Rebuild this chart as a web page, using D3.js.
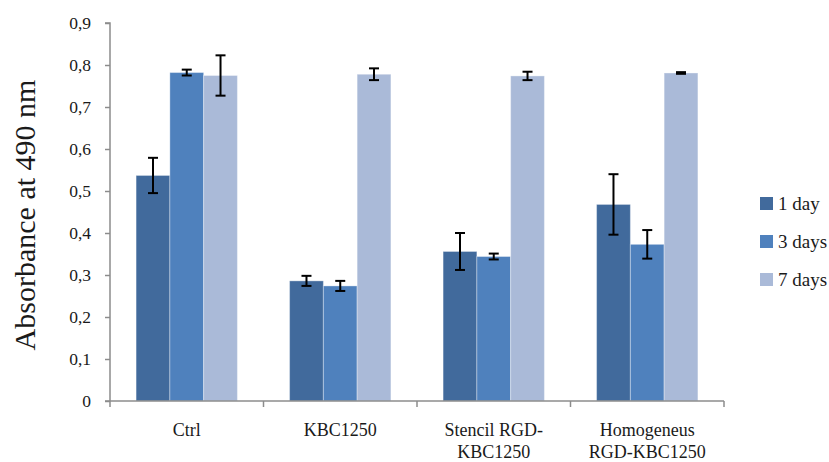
<!DOCTYPE html>
<html><head><meta charset="utf-8">
<script src="https://cdn.jsdelivr.net/npm/d3@7"></script>
<style>body{margin:0;background:#fff}svg{display:block}svg text{font-family:'Liberation Serif','DejaVu Serif',serif}</style>
</head><body>
<svg id="c" width="829" height="462"></svg>
<script>
const categories = [["Ctrl"], ["KBC1250"], ["Stencil RGD-", "KBC1250"], ["Homogeneus", "RGD-KBC1250"]];
const seriesNames = ["1 day", "3 days", "7 days"];
const seriesColors = ["#416A9C", "#4F81BD", "#AABAD8"];
const day1 = [0.537, 0.286, 0.356, 0.468];
const day3 = [0.782, 0.274, 0.344, 0.373];
const day7 = [0.775, 0.778, 0.774, 0.781];
const err1 = [0.042, 0.012, 0.044, 0.072];
const err3 = [0.007, 0.012, 0.007, 0.034];
const err7 = [0.048, 0.014, 0.010, 0.002];
const yTicks = [0, 0.1, 0.2, 0.3, 0.4, 0.5, 0.6, 0.7, 0.8, 0.9];
const yTickLabels = ["0", "0,1", "0,2", "0,3", "0,4", "0,5", "0,6", "0,7", "0,8", "0,9"];

(function () {
const values = [day1, day3, day7];
const errors = [err1, err3, err7];
const svg = d3.select("#c");
const font = "'Liberation Serif', 'DejaVu Serif', serif";
const pl = 110, pr = 724, pt = 23, pb = 401;

const x0 = d3.scaleBand().domain(d3.range(categories.length)).range([pl, pr]).paddingInner(0.34).paddingOuter(0.17);
const x1 = d3.scaleBand().domain(d3.range(seriesNames.length)).range([0, x0.bandwidth()]);
const y = d3.scaleLinear().domain([0, 0.9]).range([pb, pt]);

seriesNames.forEach((s, si) => {
  const g = svg.append("g");
  g.selectAll("rect").data(values[si]).join("rect")
    .attr("x", (d, i) => x0(i) + x1(si))
    .attr("y", d => y(d))
    .attr("width", x1.bandwidth())
    .attr("height", d => y(0) - y(d))
    .attr("fill", seriesColors[si])
    .attr("stroke", "#ffffff").attr("stroke-opacity", 0.35).attr("stroke-width", 1);
});

seriesNames.forEach((s, si) => {
  const g = svg.append("g").attr("stroke", "#000").attr("stroke-width", 2);
  values[si].forEach((v, i) => {
    const cx = x0(i) + x1(si) + x1.bandwidth() / 2;
    const e = errors[si][i];
    g.append("line").attr("x1", cx).attr("x2", cx).attr("y1", y(v + e)).attr("y2", y(v - e));
    g.append("line").attr("x1", cx - 5).attr("x2", cx + 5).attr("y1", y(v + e)).attr("y2", y(v + e));
    g.append("line").attr("x1", cx - 5).attr("x2", cx + 5).attr("y1", y(v - e)).attr("y2", y(v - e));
  });
});

const yAxis = d3.axisLeft(y).tickValues(yTicks).tickFormat((d, i) => yTickLabels[i]).tickSize(5).tickPadding(14);
const ya = svg.append("g").attr("transform", `translate(${pl},0)`).call(yAxis);
ya.attr("font-family", null).attr("font-size", null);
ya.select(".domain").attr("stroke", "#8c8c8c").attr("stroke-width", 1.5).attr("d", `M-5,${pt}H0V${pb}`);
ya.selectAll(".tick line").attr("stroke", "#8c8c8c").attr("stroke-width", 1.5);
ya.selectAll(".tick text").style("font-family", font).style("font-size", "17.5px").attr("fill", "#1a1a1a");

const xa = svg.append("g").attr("transform", `translate(0,${pb})`);
xa.append("line").attr("x1", pl - 5).attr("x2", pr).attr("y1", 0).attr("y2", 0).attr("stroke", "#8c8c8c").attr("stroke-width", 1.5);
const bounds = d3.range(categories.length + 1).map(i => pl + i * (pr - pl) / categories.length);
xa.selectAll("line.t").data(bounds).join("line").attr("class", "t")
  .attr("x1", d => d).attr("x2", d => d).attr("y1", 0).attr("y2", 6)
  .attr("stroke", "#8c8c8c").attr("stroke-width", 1.5);
categories.forEach((lines, i) => {
  const t = xa.append("text").attr("x", x0(i) + x0.bandwidth() / 2).attr("y", 35)
    .attr("text-anchor", "middle").style("font-family", font).style("font-size", "18px").attr("fill", "#1a1a1a");
  lines.forEach((l, j) => t.append("tspan").attr("x", x0(i) + x0.bandwidth() / 2).attr("dy", j === 0 ? 0 : 22).text(l));
});

svg.append("text").attr("transform", `translate(35,215) rotate(-90)`)
  .attr("text-anchor", "middle").style("font-family", font).style("font-size", "30px").attr("fill", "#1a1a1a")
  .text("Absorbance at 490 nm");

const lg = svg.append("g");
seriesNames.forEach((s, i) => {
  const ly = 203.5 + i * 38;
  lg.append("rect").attr("x", 760).attr("y", ly - 6.5).attr("width", 13).attr("height", 13).attr("fill", seriesColors[i]);
  lg.append("text").attr("x", 778).attr("y", ly + 6).style("font-family", font).style("font-size", "19px").attr("fill", "#1a1a1a").text(s);
});
})();
</script>
</body></html>
